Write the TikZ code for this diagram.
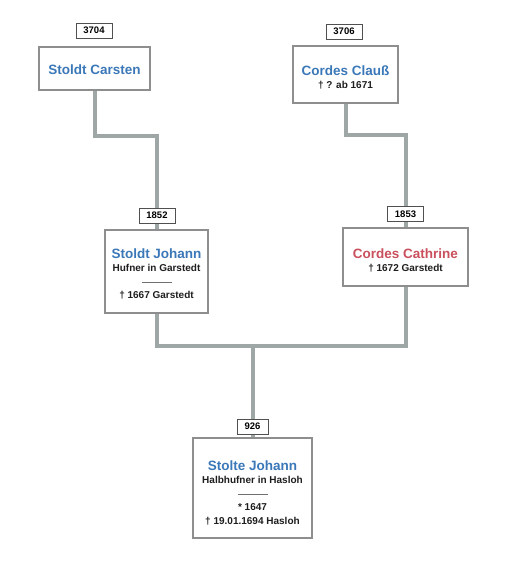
\documentclass[tikz,border=0pt]{standalone}
\usepackage{fontspec}
\setmainfont{Liberation Sans}
\usetikzlibrary{backgrounds}
\definecolor{boxgray}{HTML}{8E8E8E}
\definecolor{numgray}{HTML}{505050}
\definecolor{linkgray}{HTML}{9FA6A6}
\definecolor{sepgray}{HTML}{707070}
\definecolor{nameblue}{HTML}{3B78B8}
\definecolor{namered}{HTML}{C9505C}
\definecolor{infotext}{HTML}{1E1E1E}
\begin{document}
\begin{tikzpicture}[x=1pt,y=-1pt,
  box/.style={draw=boxgray, line width=1.3pt, fill=white, inner sep=0pt},
  num/.style={draw=numgray, line width=1pt, fill=white, inner sep=0pt,
    minimum width=36pt, minimum height=15pt, font=\bfseries\fontsize{9.5}{10}\selectfont},
  link/.style={draw=linkgray, line width=4pt},
  pname/.style={font=\bfseries\fontsize{13.5}{15}\selectfont, inner sep=0pt},
  info/.style={font=\bfseries\fontsize{10}{12}\selectfont, text=infotext, inner sep=0pt},
  sepline/.style={draw=sepgray, line width=0.7pt}]
\useasboundingbox (0,0) rectangle (505,576);

% boxes
\node[box, minimum width=111pt, minimum height=43pt] (sc) at (94.5,68.5) {};
\node[box, minimum width=105pt, minimum height=57pt] (cc) at (345.5,74.5) {};
\node[box, minimum width=103pt, minimum height=83pt] (sj) at (156.5,271.5) {};
\node[box, minimum width=125pt, minimum height=58pt] (cca) at (405.5,257) {};
\node[box, minimum width=119pt, minimum height=100pt] (st) at (252.5,488) {};

% numbers
\node[num] (n3704) at (94,30.5) {3704};
\node[num] (n3706) at (344,31.5) {3706};
\node[num] (n1852) at (157,215.5) {1852};
\node[num] (n1853) at (405.5,214) {1853};
\node[num, minimum width=31pt] (n926) at (252.5,426.5) {926};

% texts
\node[pname, text=nameblue] (scname) at (94.5,70) {Stoldt Carsten};

\node[pname, text=nameblue] (ccname) at (345.5,71) {Cordes Clauß};
\node[info] (ccd) at (345.5,85) {† ? ab 1671};

\node[pname, text=nameblue] (sjname) at (156.5,254) {Stoldt Johann};
\node[info] (sjo) at (156.5,268) {Hufner in Garstedt};
\draw[sepline] (141.5,282) -- (171.5,282);
\node[info] (sjd) at (156.5,295.5) {† 1667 Garstedt};

\node[pname, text=namered] (ccaname) at (405.5,254) {Cordes Cathrine};
\node[info] (ccad) at (405.5,268) {† 1672 Garstedt};

\node[pname, text=nameblue] (stname) at (252.5,466) {Stolte Johann};
\node[info] (sto) at (252.5,480) {Halbhufner in Hasloh};
\draw[sepline] (237.5,494) -- (267.5,494);
\node[info] (stb) at (252.5,507.5) {* 1647};
\node[info] (std) at (252.5,521.5) {† 19.01.1694 Hasloh};

% connectors
\begin{scope}[on background layer]
\fill[white] (0,0) rectangle (505,576);
\draw[link] (sc.south) -- ++(0,45) -| (sj.north);
\draw[link] (cc.south) -- ++(0,31) -| (cca.north);
\draw[link] (sj.south) -- ++(0,32) -| (cca.south);
\draw[link] (st.north) -- ++(0,-93);
\end{scope}
\end{tikzpicture}
\end{document}
